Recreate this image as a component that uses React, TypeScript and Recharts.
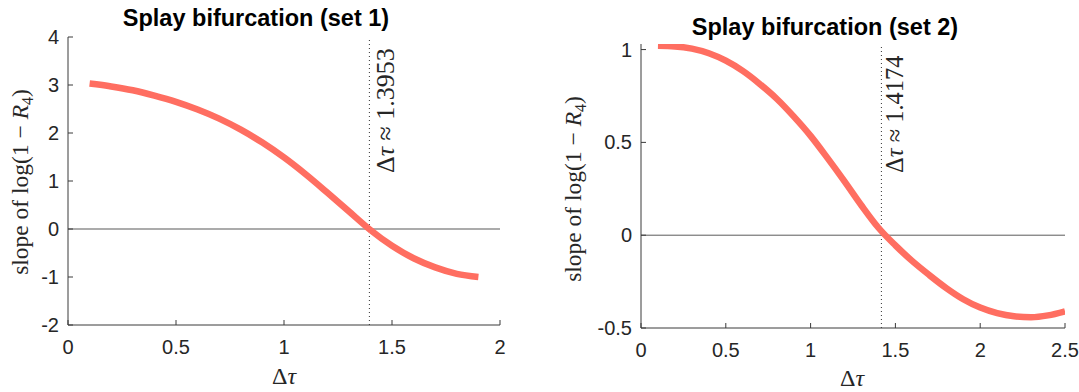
import React from 'react';
import { LineChart, Line, XAxis, YAxis, ReferenceLine, Customized } from 'recharts';

// ---- Data ----
const set1Tau = [0.1, 0.2, 0.3, 0.4, 0.5, 0.6, 0.7, 0.8, 0.9, 1.0, 1.1, 1.2, 1.3, 1.4, 1.5, 1.6, 1.7, 1.8, 1.9];
const set1Slope = [3.03, 2.97, 2.89, 2.78, 2.65, 2.49, 2.3, 2.07, 1.8, 1.49, 1.14, 0.76, 0.37, -0.02, -0.35, -0.61, -0.8, -0.935, -1.0];

const set2Tau = [0.1, 0.2, 0.3, 0.4, 0.5, 0.6, 0.7, 0.8, 0.9, 1.0, 1.1, 1.2, 1.3, 1.4, 1.5, 1.6, 1.7, 1.8, 1.9, 2.0, 2.1, 2.2, 2.3, 2.4, 2.5];
const set2Slope = [1.02, 1.017, 1.005, 0.98, 0.94, 0.885, 0.815, 0.735, 0.64, 0.535, 0.415, 0.29, 0.16, 0.04, -0.055, -0.14, -0.215, -0.285, -0.345, -0.39, -0.42, -0.437, -0.442, -0.432, -0.41];

const set1XTicks = [0, 0.5, 1, 1.5, 2];
const set1YTicks = [-2, -1, 0, 1, 2, 3, 4];
const set2XTicks = [0, 0.5, 1, 1.5, 2, 2.5];
const set2YTicks = [-0.5, 0, 0.5, 1];

const set1Bif = 1.3953;
const set2Bif = 1.4174;
const set1Title = 'Splay bifurcation (set 1)';
const set2Title = 'Splay bifurcation (set 2)';

const data1 = set1Tau.map((t, i) => ({ t, s: set1Slope[i] }));
const data2 = set2Tau.map((t, i) => ({ t, s: set2Slope[i] }));

const SANS = '"Liberation Sans", Arial, Helvetica, sans-serif';
const SERIF = '"Liberation Serif", "Times New Roman", serif';
const AXIS = '#3a3a3a';
const LINE = '#FF6E61';

const tickStyle = { fontFamily: SANS, fontSize: 20, fill: '#262626' };

function BifLabel(props: any) {
  const { viewBox, text, baseY, fontSize, offset } = props;
  const x = viewBox.x + offset;
  return (
    <text
      x={x}
      y={baseY}
      transform={`rotate(-90, ${x}, ${baseY})`}
      fontFamily={SERIF}
      fontSize={fontSize}
      fill="#262626"
      textAnchor="start"
    >
      Δ<tspan fontStyle="italic">τ</tspan> ≈ {text}
    </text>
  );
}

function Decor(props: {
  title: string;
  titleX: number;
  titleY: number;
  yLabelX: number;
  yLabelY: number;
  xLabelX: number;
  xLabelY: number;
}) {
  const { title, titleX, titleY, yLabelX, yLabelY, xLabelX, xLabelY } = props;
  return (
    <g>
      <text x={titleX} y={titleY} textAnchor="middle" fontFamily={SANS} fontWeight="bold" fontSize={23.5} fill="#000">
        {title}
      </text>
      <text
        x={yLabelX}
        y={yLabelY}
        transform={`rotate(-90, ${yLabelX}, ${yLabelY})`}
        textAnchor="middle"
        fontFamily={SERIF}
        fontSize={23.5}
        fill="#262626"
      >
        slope of log(1 − <tspan fontStyle="italic">R</tspan>
        <tspan fontSize={16} dy={5}>4</tspan>
        <tspan dy={-5}>)</tspan>
      </text>
      <text x={xLabelX} y={xLabelY} textAnchor="middle" fontFamily={SERIF} fontSize={24} fill="#262626">
        Δ<tspan fontStyle="italic">τ</tspan>
      </text>
    </g>
  );
}

export default function App() {
  return (
    <div style={{ position: 'absolute', left: 0, top: 0, width: 1079, height: 392, background: '#fff' }}>
      <div style={{ position: 'absolute', left: 0, top: 0 }}>
        <LineChart width={540} height={392} data={data1} margin={{ top: 37, right: 40, bottom: 0, left: 0 }}>
          <XAxis
            dataKey="t"
            type="number"
            domain={[0, 2]}
            ticks={set1XTicks}
            allowDataOverflow
            height={67}
            tickSize={-5}
            tickMargin={20}
            stroke={AXIS}
            tick={tickStyle}
            interval={0}
          />
          <YAxis
            type="number"
            domain={[-2, 4]}
            ticks={set1YTicks}
            allowDataOverflow
            width={68}
            tickSize={-5}
            tickMargin={14}
            stroke={AXIS}
            tick={tickStyle}
            interval={0}
          />
          <ReferenceLine y={0} stroke="#8f8f8f" strokeWidth={1.6} />
          <ReferenceLine
            x={set1Bif}
            stroke="#333"
            strokeWidth={1}
            strokeDasharray="1 3"
            label={(p: any) => <BifLabel {...p} text="1.3953" baseY={173} fontSize={26} offset={25} />}
          />
          <Line dataKey="s" type="monotone" stroke={LINE} strokeWidth={6.5} dot={false} isAnimationActive={false} />
          <Customized
            component={() => (
              <Decor title={set1Title} titleX={256} titleY={26} yLabelX={28} yLabelY={182} xLabelX={284} xLabelY={384} />
            )}
          />
        </LineChart>
      </div>
      <div style={{ position: 'absolute', left: 540, top: 0 }}>
        <LineChart width={539} height={392} data={data2} margin={{ top: 44, right: 14, bottom: 0, left: 0 }}>
          <XAxis
            dataKey="t"
            type="number"
            domain={[0, 2.5]}
            ticks={set2XTicks}
            allowDataOverflow
            height={64}
            tickSize={-5}
            tickMargin={20}
            stroke={AXIS}
            tick={tickStyle}
            interval={0}
          />
          <YAxis
            type="number"
            domain={[-0.5, 1.03]}
            ticks={set2YTicks}
            allowDataOverflow
            width={101}
            tickSize={-5}
            tickMargin={14}
            stroke={AXIS}
            tick={tickStyle}
            interval={0}
          />
          <ReferenceLine y={0} stroke="#5a5a5a" strokeWidth={1} />
          <ReferenceLine
            x={set2Bif}
            stroke="#333"
            strokeWidth={1}
            strokeDasharray="1 3"
            label={(p: any) => <BifLabel {...p} text="1.4174" baseY={173} fontSize={24.5} offset={22} />}
          />
          <Line dataKey="s" type="monotone" stroke={LINE} strokeWidth={6.5} dot={false} isAnimationActive={false} />
          <Customized
            component={() => (
              <Decor title={set2Title} titleX={285} titleY={35} yLabelX={41} yLabelY={189} xLabelX={312} xLabelY={386} />
            )}
          />
        </LineChart>
      </div>
    </div>
  );
}
